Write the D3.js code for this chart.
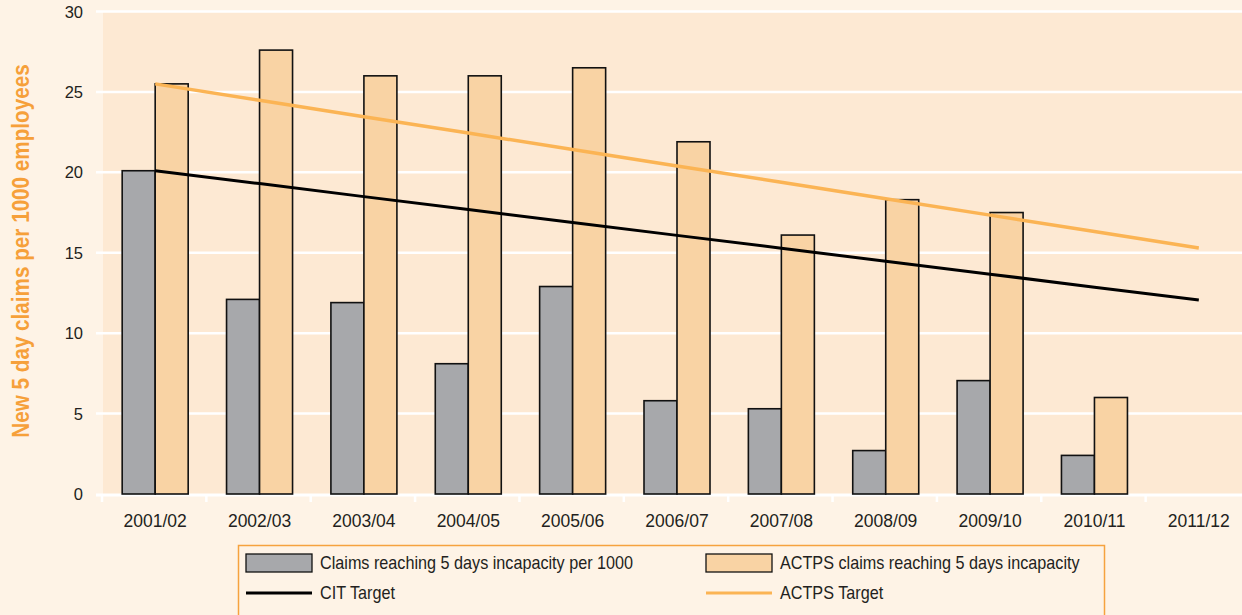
<!DOCTYPE html>
<html>
<head>
<meta charset="utf-8">
<script src="https://cdn.jsdelivr.net/npm/d3@7"></script>
<style>
  html, body { margin: 0; padding: 0; background: #fef3e6; }
  svg { display: block; }
</style>
</head>
<body>
<svg id="chart" width="1242" height="615"></svg>
<script>
// Financial years on the x axis
const years = ["2001/02", "2002/03", "2003/04", "2004/05", "2005/06", "2006/07",
               "2007/08", "2008/09", "2009/10", "2010/11", "2011/12"];

// New 5 day claims per 1000 employees
const claimsPer1000 = [20.1, 12.1, 11.9, 8.1, 12.9, 5.8, 5.3, 2.7, 7.05, 2.4, null];
const actpsClaims   = [25.5, 27.6, 26.0, 26.0, 26.5, 21.9, 16.1, 18.3, 17.5, 6.0, null];

// Target trajectories
const citTarget   = [20.1, 19.3, 18.49, 17.69, 16.88, 16.08, 15.28, 14.47, 13.67, 12.86, 12.06];
const actpsTarget = [25.5, 24.48, 23.46, 22.44, 21.42, 20.4, 19.38, 18.36, 17.34, 16.32, 15.3];

const yTicks = [0, 5, 10, 15, 20, 25, 30];

const legendLabels = {
  claims: "Claims reaching 5 days incapacity per 1000",
  actps: "ACTPS claims reaching 5 days incapacity",
  cit: "CIT Target",
  actpsTarget: "ACTPS Target"
};

const colors = {
  bg: "#fef3e6",
  panel: "#fde9d3",
  grid: "#ffffff",
  grey: "#a7a8ab",
  orange: "#f9d3a4",
  actpsLine: "#fbb454",
  citLine: "#000000",
  text: "#231f20",
  title: "#f6a03a",
  legendBorder: "#f6a23f"
};

const baseFont = "Liberation Sans, Arial, Helvetica, sans-serif";
const titleSqueeze = 0.88;   // horizontal squeeze for the narrow title lettering
const legendSqueeze = 0.9;   // and for the legend lettering

const svg = d3.select("#chart");

const x = d3.scaleBand().domain(years).range([103, 1251]).padding(0);
const y = d3.scaleLinear().domain([0, 30]).range([494, 11.5]);
const barW = 33;
const cx = d => x(d) + x.bandwidth() / 2;

// background panel
svg.append("rect")
  .attr("x", x.range()[0]).attr("y", y(30))
  .attr("width", x.range()[1] - x.range()[0])
  .attr("height", y(0) - y(30))
  .attr("fill", colors.panel);

// horizontal gridlines
svg.append("g").selectAll("line")
  .data(yTicks.filter(t => t > 0))
  .join("line")
  .attr("x1", 96).attr("x2", x.range()[1])
  .attr("y1", d => y(d)).attr("y2", d => y(d))
  .attr("stroke", colors.grid).attr("stroke-width", 2.5);

// baseline with category tick marks
svg.append("line")
  .attr("x1", 96).attr("x2", x.range()[1])
  .attr("y1", y(0) + 1).attr("y2", y(0) + 1)
  .attr("stroke", colors.grid).attr("stroke-width", 3);

const boundaries = years.map(d => x(d)).concat([x.range()[1]]);
svg.append("g").selectAll("line")
  .data(boundaries)
  .join("line")
  .attr("x1", d => d - 1).attr("x2", d => d - 1)
  .attr("y1", y(0)).attr("y2", y(0) + 8)
  .attr("stroke", colors.grid).attr("stroke-width", 2.5);

// y tick labels
svg.append("g").selectAll("text")
  .data(yTicks)
  .join("text")
  .attr("x", 83).attr("y", d => y(d))
  .attr("text-anchor", "end").attr("dominant-baseline", "central")
  .attr("font-family", baseFont)
  .attr("font-size", 16.5).attr("fill", colors.text)
  .text(d => d);

// x category labels
svg.append("g").selectAll("text")
  .data(years)
  .join("text")
  .attr("x", d => cx(d)).attr("y", 521)
  .attr("text-anchor", "middle").attr("dominant-baseline", "central")
  .attr("font-family", baseFont)
  .attr("font-size", 17.5).attr("fill", colors.text)
  .text(d => d);

// bars
const barData = years.map((d, i) => ({ year: d, claims: claimsPer1000[i], actps: actpsClaims[i] }));
const bars = svg.append("g");
bars.selectAll("rect.claims")
  .data(barData.filter(d => d.claims != null))
  .join("rect").attr("class", "claims")
  .attr("x", d => cx(d.year) - barW).attr("width", barW)
  .attr("y", d => y(d.claims)).attr("height", d => y(0) - y(d.claims))
  .attr("fill", colors.grey).attr("stroke", "#111").attr("stroke-width", 1.6);
bars.selectAll("rect.actps")
  .data(barData.filter(d => d.actps != null))
  .join("rect").attr("class", "actps")
  .attr("x", d => cx(d.year)).attr("width", barW)
  .attr("y", d => y(d.actps)).attr("height", d => y(0) - y(d.actps))
  .attr("fill", colors.orange).attr("stroke", "#111").attr("stroke-width", 1.6);

// target lines
const line = d3.line().x(d => cx(d.year)).y(d => y(d.v));
svg.append("path")
  .datum(years.map((d, i) => ({ year: d, v: actpsTarget[i] })))
  .attr("d", line).attr("fill", "none")
  .attr("stroke", colors.actpsLine).attr("stroke-width", 3.5);
svg.append("path")
  .datum(years.map((d, i) => ({ year: d, v: citTarget[i] })))
  .attr("d", line).attr("fill", "none")
  .attr("stroke", colors.citLine).attr("stroke-width", 3);

// y axis title (bold, condensed)
svg.append("text")
  .attr("transform", `translate(21,251) rotate(-90) scale(${titleSqueeze},1)`)
  .attr("text-anchor", "middle").attr("dominant-baseline", "central")
  .attr("font-family", baseFont)
  .attr("font-weight", "bold").attr("font-size", 23.5)
  .attr("fill", colors.title)
  .text("New 5 day claims per 1000 employees");

// legend
const legend = svg.append("g");
legend.append("rect")
  .attr("x", 238.5).attr("y", 545.5).attr("width", 866).attr("height", 100)
  .attr("fill", "none").attr("stroke", colors.legendBorder).attr("stroke-width", 1.5);

const legendItems = [
  { type: "bar", fill: colors.grey, label: legendLabels.claims, x: 246, y: 563 },
  { type: "bar", fill: colors.orange, label: legendLabels.actps, x: 706, y: 563 },
  { type: "line", stroke: colors.citLine, width: 3, label: legendLabels.cit, x: 246, y: 593 },
  { type: "line", stroke: colors.actpsLine, width: 3, label: legendLabels.actpsTarget, x: 706, y: 593 }
];
legendItems.forEach(it => {
  if (it.type === "bar") {
    legend.append("rect")
      .attr("x", it.x).attr("y", it.y - 9).attr("width", 66).attr("height", 18)
      .attr("fill", it.fill).attr("stroke", "#111").attr("stroke-width", 1.3);
  } else {
    legend.append("line")
      .attr("x1", it.x).attr("x2", it.x + 66).attr("y1", it.y).attr("y2", it.y)
      .attr("stroke", it.stroke).attr("stroke-width", it.width);
  }
  legend.append("text")
    .attr("transform", `translate(${it.x + 74},${it.y}) scale(${legendSqueeze},1)`)
    .attr("dominant-baseline", "central")
    .attr("font-family", baseFont)
    .attr("font-size", 18).attr("fill", colors.text)
    .text(it.label);
});
</script>
</body>
</html>
